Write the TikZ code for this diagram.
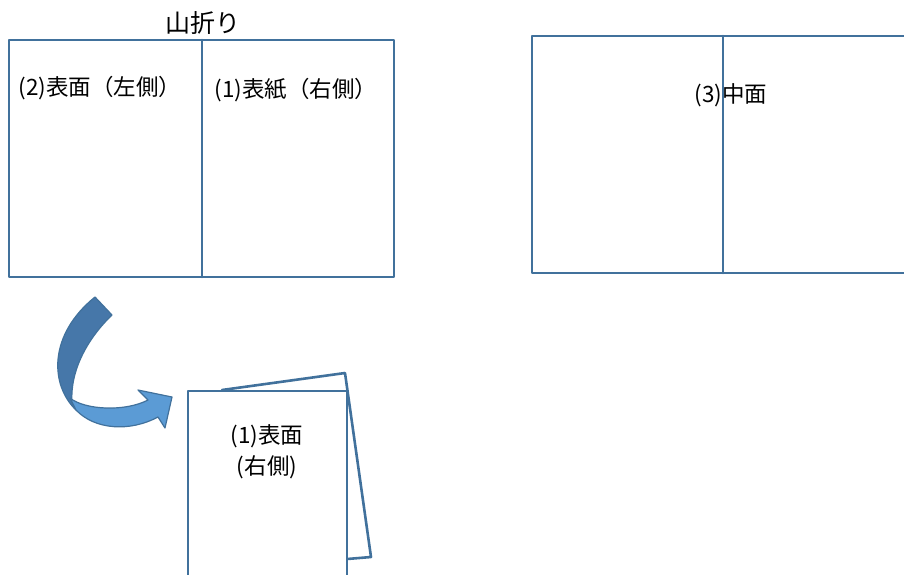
\documentclass[tikz,border=0pt]{standalone}
\usepackage{fontspec}
\setmainfont{Noto Sans CJK JP}
\definecolor{edge}{HTML}{41719C}
\definecolor{ribbondark}{HTML}{4677A9}
\definecolor{ribbonlight}{HTML}{5B9BD5}
\tikzset{sheet/.style={draw=edge, line width=2.6pt}}
\begin{document}
\begin{tikzpicture}[x=1pt, y=-1pt, line join=round, line cap=round, font=\fontsize{22.5}{31}\selectfont]
	\useasboundingbox (0,0) rectangle (904,574);
	\clip (0,0) rectangle (904,574);
	% open sheet with the mountain fold
	\draw[sheet] (9,40) rectangle (394,277) (202,40) -- (202,277);
	\node[font=\fontsize{25}{28}\selectfont] (fold) at (203,23) {山折り};
	\node (leftface) at (100,88) {(2)表面（左側）};
	\node (cover) at (296,90) {(1)表紙（右側）};
	% inside spread
	\draw[sheet] (532,36) rectangle (915,273) (723,36) -- (723,273);
	\node (inside) at (731,95) {(3)中面};
	% folded sheet
	\draw[sheet, fill=white] (222,390) -- (345,373) -- (371,557) -- (347,559);
	\draw[sheet, fill=white] (188,391) rectangle (347,590);
	\node[align=center] (front) at (267,452) {(1)表面\\(右側)};
	% turning arrow
	\draw[edge, line width=1.2pt, fill=ribbondark] (95,297) -- (112,315) .. controls (88,338) and (70,370) .. (72,402)
		-- (76,410) .. controls (50,385) and (48,335) .. (95,297) -- cycle;
	\draw[edge, line width=1.2pt, fill=ribbonlight] (70,398) .. controls (85,410) and (125,412) .. (148,400) -- (138,390)
		-- (172,397) -- (165,428) -- (158,417) .. controls (130,432) and (95,430) .. (76,410) -- cycle;
\end{tikzpicture}
\end{document}
